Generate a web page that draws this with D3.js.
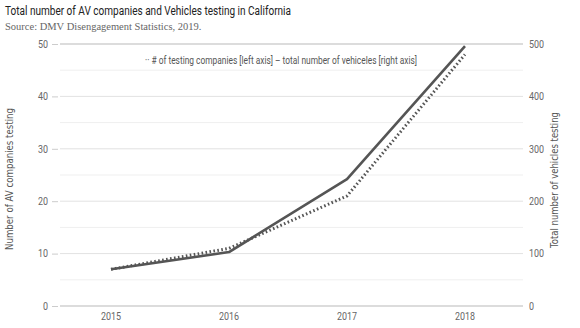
<!DOCTYPE html>
<html>
<head>
<meta charset="utf-8">
<script src="https://cdn.jsdelivr.net/npm/d3@7"></script>
<style>
  body { margin: 0; background: #fff; }
  svg { display: block; }
  text { font-family: Roboto, "Noto Sans", sans-serif; }
</style>
</head>
<body>
<svg id="chart" width="580" height="328"></svg>
<script>
const years = ["2015", "2016", "2017", "2018"];
const companies = [7, 11, 21, 48];       // left axis
const vehicles = [70, 103, 242, 496];    // right axis
const leftTicks = [0, 10, 20, 30, 40, 50];
const rightTicks = [0, 100, 200, 300, 400, 500];
const minorTicks = [5, 15, 25, 35, 45];

const svg = d3.select("#chart");
const plot = {left: 60, right: 523, top: 44, bottom: 306};

const x = d3.scaleBand().domain(years).range([52, 524]);
const xc = d => x(d) + x.bandwidth() / 2;
const yL = d3.scaleLinear().domain([0, 50]).range([plot.bottom, plot.top]);
const yR = d3.scaleLinear().domain([0, 500]).range([plot.bottom, plot.top]);

// title + source
svg.append("text").attr("x", 5).attr("y", 15)
  .attr("font-size", 13.2).attr("fill", "#222")
  .attr("textLength", 286).attr("lengthAdjust", "spacingAndGlyphs")
  .text("Total number of AV companies and Vehicles testing in California");
svg.append("text").attr("x", 5).attr("y", 30)
  .style("font-family", "'Liberation Serif', 'DejaVu Serif', serif")
  .attr("font-size", 10.5).attr("fill", "#666")
  .text("Source: DMV Disengagement Statistics, 2019.");

// minor gridlines
svg.append("g").selectAll("line").data(minorTicks).join("line")
  .attr("x1", plot.left).attr("x2", plot.right)
  .attr("y1", d => yL(d)).attr("y2", d => yL(d))
  .attr("stroke", "#efefef").attr("stroke-width", 1);

// major gridlines
svg.append("g").selectAll("line").data(leftTicks).join("line")
  .attr("x1", plot.left).attr("x2", plot.right)
  .attr("y1", d => yL(d)).attr("y2", d => yL(d))
  .attr("stroke", d => (d === 0 || d === 50) ? "#d0d0d0" : "#e2e2e2")
  .attr("stroke-width", d => (d === 0 || d === 50) ? 1.6 : 1);

// left axis
const leftAxis = svg.append("g")
  .attr("transform", `translate(${plot.left - 2},0)`)
  .call(d3.axisLeft(yL).tickValues(leftTicks).tickSize(6).tickPadding(4));
leftAxis.select(".domain").remove();

// right axis
const rightAxis = svg.append("g")
  .attr("transform", `translate(${plot.right},0)`)
  .call(d3.axisRight(yR).tickValues(rightTicks).tickSize(0).tickPadding(6));
rightAxis.select(".domain").remove();

// bottom axis labels
const bottomAxis = svg.append("g")
  .attr("transform", `translate(0,${plot.bottom})`)
  .call(d3.axisBottom(x).tickSize(0).tickPadding(7));
bottomAxis.select(".domain").remove();

// tick styling, labels a bit narrower than plain Roboto
[leftAxis, rightAxis, bottomAxis].forEach(g => {
  g.selectAll(".tick line").attr("stroke", "#ccc");
  g.selectAll(".tick text")
    .attr("fill", "#666").attr("font-size", 10.5)
    .style("font-family", "Roboto, sans-serif")
    .each(function () {
      const w = this.getComputedTextLength();
      d3.select(this).attr("textLength", w * 0.85).attr("lengthAdjust", "spacingAndGlyphs");
    });
});

// axis titles
svg.append("text")
  .attr("transform", `translate(13,179) rotate(-90)`)
  .attr("text-anchor", "middle")
  .attr("font-size", 10).attr("fill", "#555")
  .style("font-family", "'DejaVu Sans', sans-serif")
  .attr("textLength", 142).attr("lengthAdjust", "spacingAndGlyphs")
  .text("Number of AV companies testing");
svg.append("text")
  .attr("transform", `translate(558,180) rotate(-90)`)
  .attr("text-anchor", "middle")
  .attr("font-size", 10).attr("fill", "#555")
  .style("font-family", "'DejaVu Sans', sans-serif")
  .attr("textLength", 136).attr("lengthAdjust", "spacingAndGlyphs")
  .text("Total number of vehicles testing");

// lines
const vehicleLine = d3.line().x((d, i) => xc(years[i])).y(d => yR(d));
const companyLine = d3.line().x((d, i) => xc(years[i])).y(d => yL(d));

svg.append("path").datum(companies)
  .attr("d", companyLine)
  .attr("fill", "none").attr("stroke", "#555")
  .attr("stroke-width", 3).attr("stroke-dasharray", "1.6,2.4");

svg.append("path").datum(vehicles)
  .attr("d", vehicleLine)
  .attr("fill", "none").attr("stroke", "#555")
  .attr("stroke-width", 2.6).attr("stroke-linejoin", "round");

// legend
svg.append("text")
  .attr("x", 145).attr("y", 64)
  .attr("font-size", 10.5).attr("fill", "#555")
  .attr("textLength", 272).attr("lengthAdjust", "spacingAndGlyphs")
  .text("\u00b7\u00b7 # of testing companies [left axis]  \u2013 total number of vehiceles [right axis]");
</script>
</body>
</html>
